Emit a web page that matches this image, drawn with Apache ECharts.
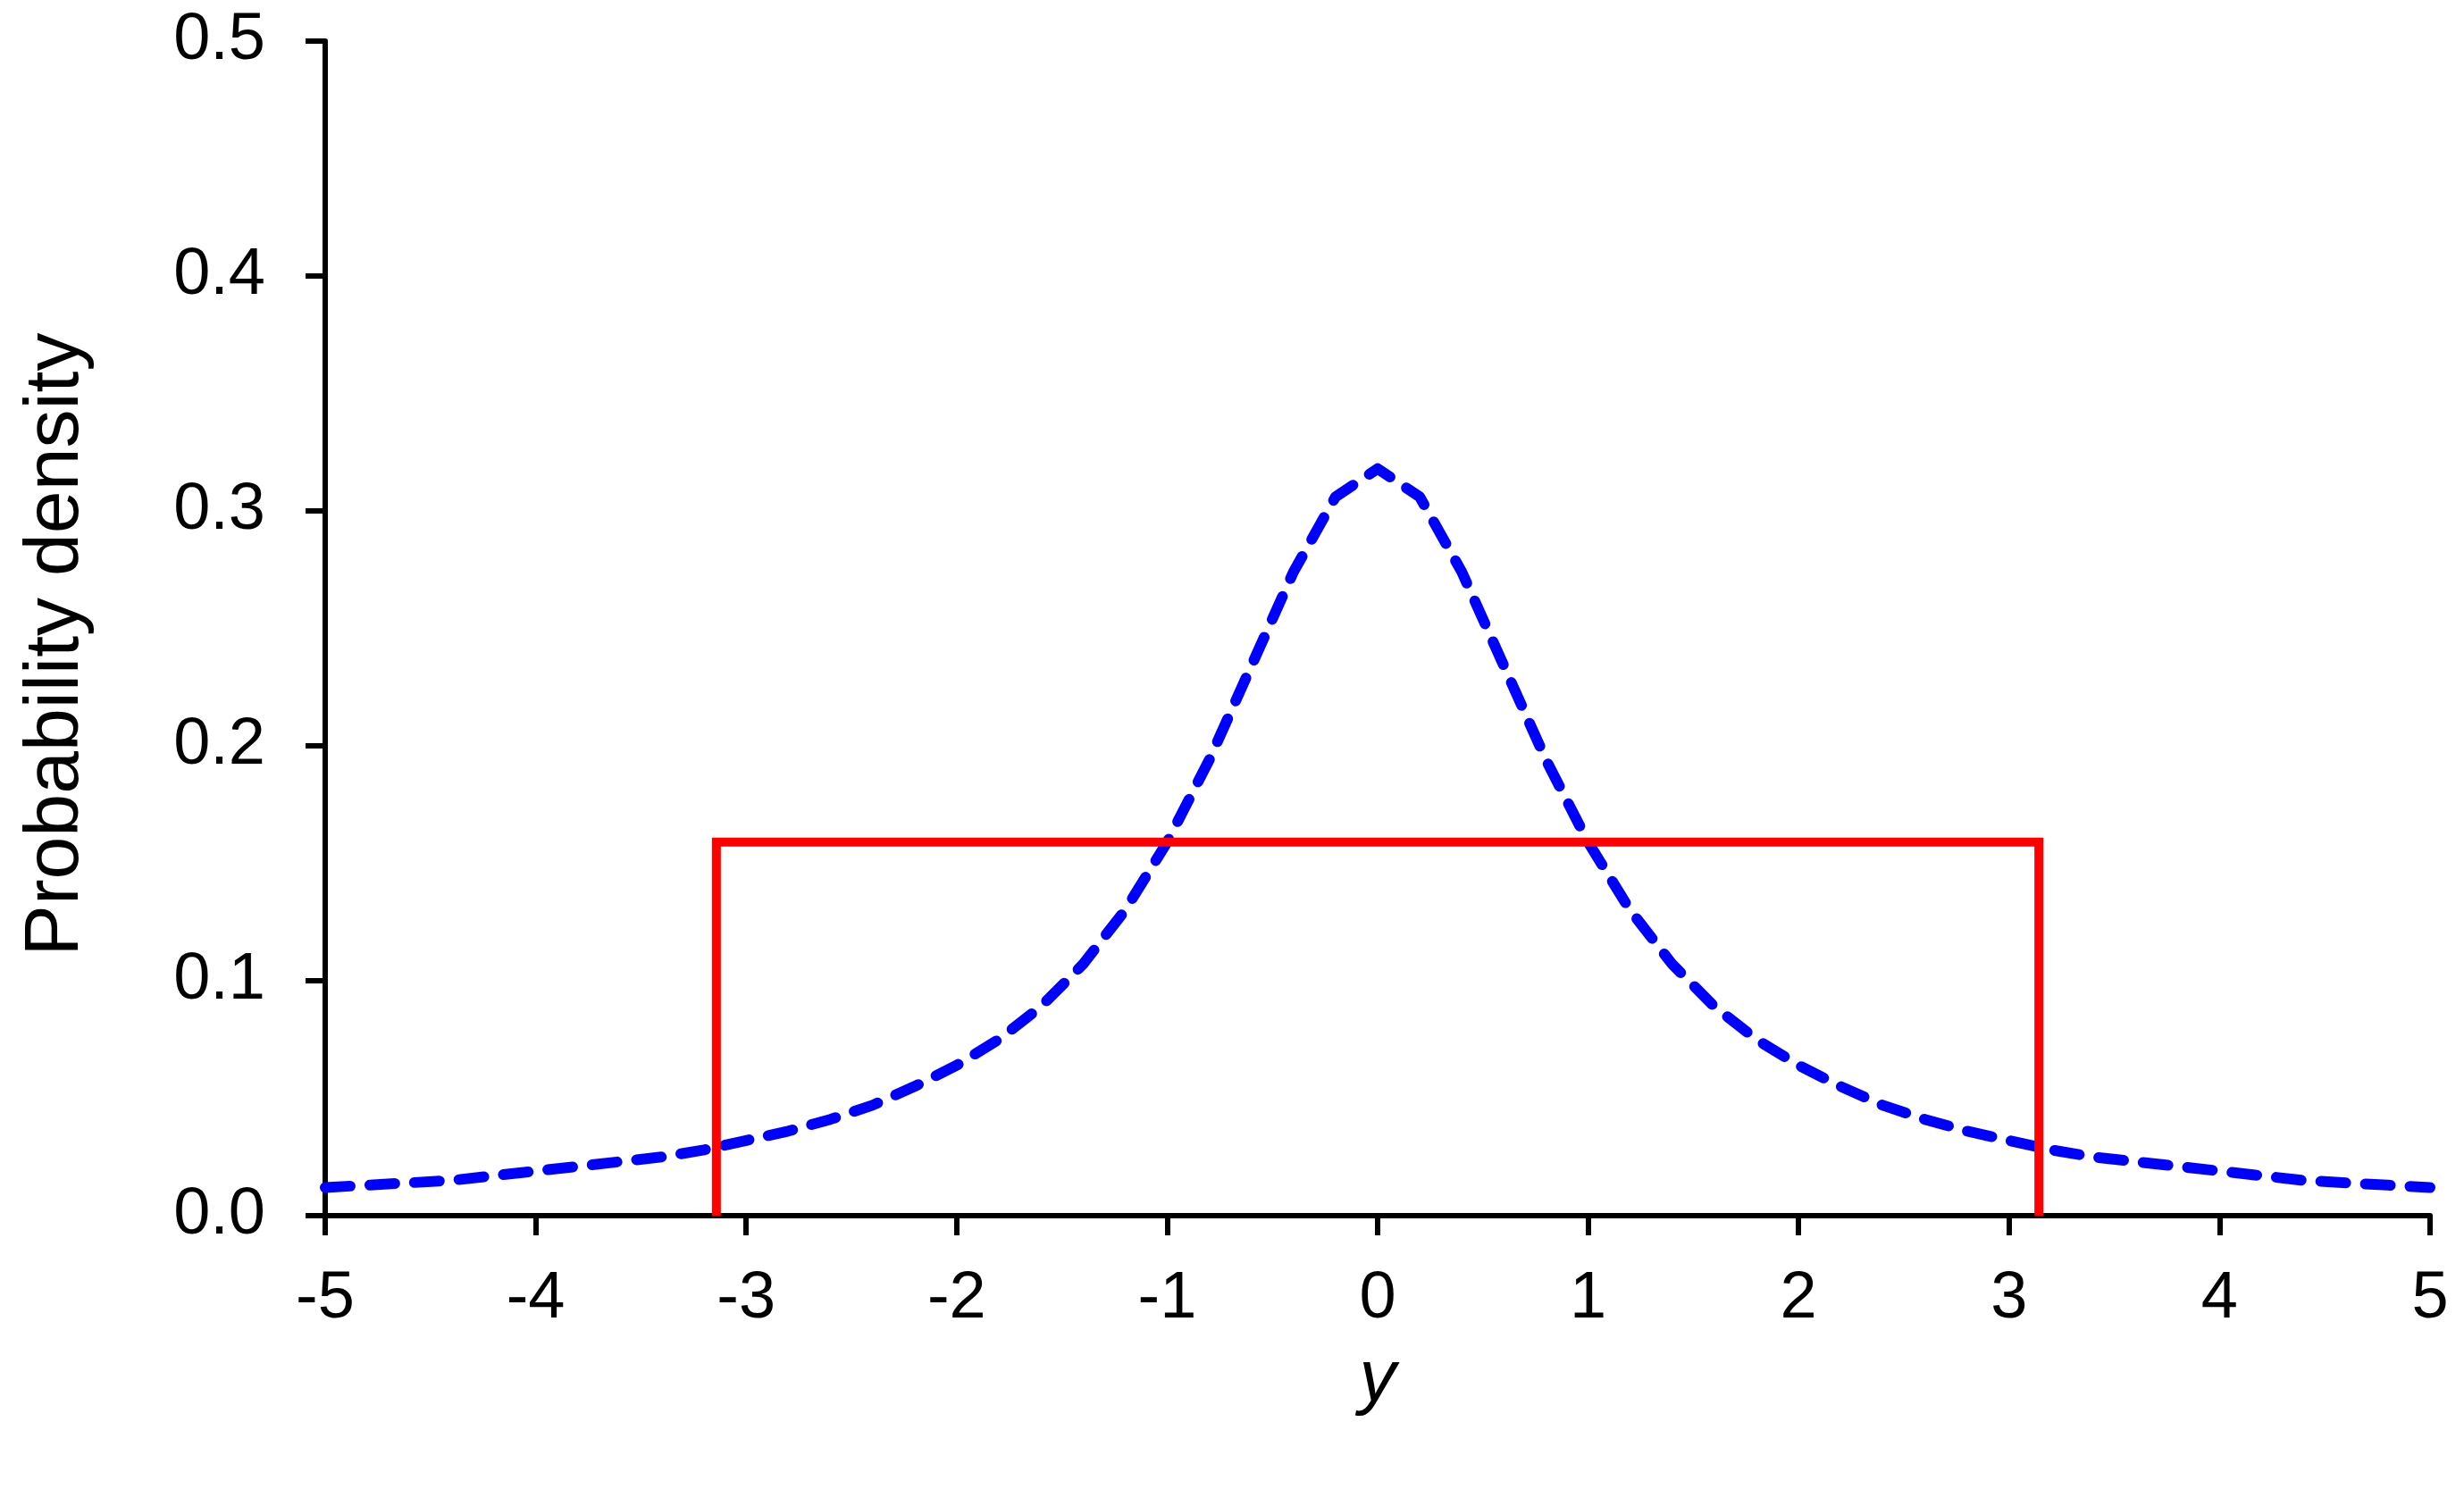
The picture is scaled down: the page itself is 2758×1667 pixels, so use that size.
<!DOCTYPE html>
<html>
<head>
<meta charset="utf-8">
<script src="https://cdn.jsdelivr.net/npm/echarts@6/dist/echarts.min.js"></script>
<style>
html,body{margin:0;padding:0;background:#fff;}
#chart{width:2758px;height:1667px;}
</style>
</head>
<body>
<div id="chart"></div>
<script>
// Cauchy-like density (blue dashed), sampled every 0.2
var densX = [-5,-4.8,-4.6,-4.4,-4.2,-4,-3.8,-3.6,-3.4,-3.2,-3,-2.8,-2.6,-2.4,-2.2,-2,-1.8,-1.6,-1.4,-1.2,-1,-0.8,-0.6,-0.4,-0.2,0,0.2,0.4,0.6,0.8,1,1.2,1.4,1.6,1.8,2,2.2,2.4,2.6,2.8,3,3.2,3.4,3.6,3.8,4,4.2,4.4,4.6,4.8,5];
var densY = [0.012,0.013,0.014,0.015,0.017,0.019,0.021,0.023,0.025,0.028,0.032,0.036,0.041,0.047,0.055,0.064,0.075,0.089,0.107,0.130,0.159,0.194,0.234,0.274,0.306,0.318,0.306,0.274,0.234,0.194,0.159,0.130,0.107,0.089,0.075,0.064,0.055,0.047,0.041,0.036,0.032,0.028,0.025,0.023,0.021,0.019,0.017,0.015,0.014,0.013,0.012];
// Uniform density (red box)
var unifX = [-3.1416,-3.1416,3.1416,3.1416];
var unifY = [0,0.159,0.159,0];

var xTicks = [-5,-4,-3,-2,-1,0,1,2,3,4,5];
var yTicks = ['0.0','0.1','0.2','0.3','0.4','0.5'];

function zip(a,b){return a.map(function(v,i){return [v,b[i]];});}

var chart = echarts.init(document.getElementById('chart'), null, {renderer:'canvas'});
var font = '"Liberation Sans", Arial, sans-serif';
chart.setOption({
  animation:false,
  backgroundColor:'#ffffff',
  grid:{left:364,right:38,top:46,bottom:306,containLabel:false},
  xAxis:{
    type:'value',min:-5,max:5,interval:1,
    name:'y',nameLocation:'middle',nameGap:143,
    nameTextStyle:{fontFamily:font,fontSize:82,fontStyle:'italic',color:'#000'},
    axisLine:{show:true,onZero:false,lineStyle:{color:'#000',width:6}},
    axisTick:{show:true,inside:false,length:22,lineStyle:{color:'#000',width:6}},
    axisLabel:{margin:57,fontFamily:font,fontSize:74,color:'#000',
      formatter:function(v){return String(v);}},
    splitLine:{show:false}
  },
  yAxis:{
    type:'value',min:0,max:0.5,interval:0.1,
    name:'Probability density',nameLocation:'middle',nameGap:258,nameRotate:90,
    nameTextStyle:{fontFamily:font,fontSize:86,color:'#000',padding:[0,36,0,0]},
    axisLine:{show:true,onZero:false,lineStyle:{color:'#000',width:6}},
    axisTick:{show:true,inside:false,length:22,lineStyle:{color:'#000',width:6}},
    axisLabel:{margin:67,fontFamily:font,fontSize:74,color:'#000',
      formatter:function(v){return yTicks[Math.round(v*10)];}},
    splitLine:{show:false}
  },
  series:[
    {type:'line',data:zip(densX,densY),symbol:'none',smooth:false,
     lineStyle:{color:'#0000ff',width:12,type:[28,22],cap:'round',join:'round'},z:2},
    {type:'line',data:zip(unifX,unifY),symbol:'none',smooth:false,
     lineStyle:{color:'#ff0000',width:10,cap:'butt',join:'miter'},z:3}
  ]
});
</script>
</body>
</html>
